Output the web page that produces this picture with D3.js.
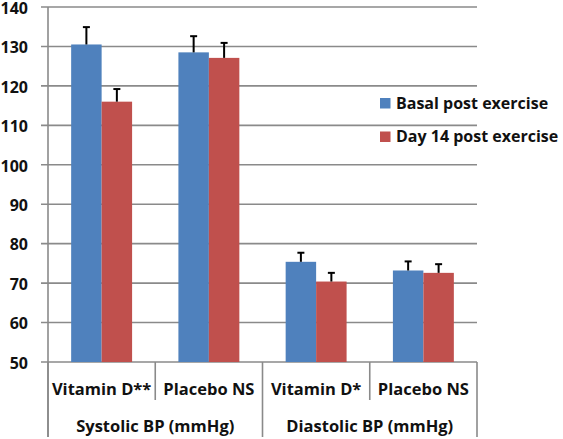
<!DOCTYPE html>
<html><head><meta charset="utf-8">
<script src="https://cdn.jsdelivr.net/npm/d3@7"></script>
<style>body{margin:0;background:#fff}svg{display:block}text{font-family:"Open Sans",sans-serif;font-weight:700;fill:#111}</style>
</head><body><svg id="c" width="563" height="439"></svg>
<script>
const categories = ["Vitamin D**", "Placebo NS", "Vitamin D*", "Placebo NS"];
const groups = ["Systolic BP (mmHg)", "Diastolic BP (mmHg)"];
const series = ["Basal post exercise", "Day 14 post exercise"];
const basal = [130.5, 128.5, 75.4, 73.2];
const basalErr = [4.4, 4.1, 2.3, 2.3];
const day14 = [116.0, 127.1, 70.4, 72.6];
const day14Err = [3.2, 3.8, 2.2, 2.2];
const yTicks = [50, 60, 70, 80, 90, 100, 110, 120, 130, 140];
const colors = ["#4F81BD", "#C0504D"];

const svg = d3.select("#c");
const L = 48, R = 477, T = 7, B = 362;
const y = d3.scaleLinear().domain([50, 140]).range([B, T]);
const idx = categories.map((d, i) => i);
const x0 = d3.scaleBand().domain(idx).range([L, R]);
const x1 = d3.scaleBand().domain([0, 1]).range([0, x0.bandwidth()]).paddingOuter(0.76).paddingInner(0);
const grid = "#8a8a8a";

// gridlines
svg.append("g").selectAll("line").data(yTicks).join("line")
  .attr("x1", L - 7).attr("x2", R).attr("y1", d => y(d)).attr("y2", d => y(d))
  .attr("stroke", grid).attr("stroke-width", 1.6);
// y axis line
svg.append("line").attr("x1", L).attr("x2", L).attr("y1", T).attr("y2", 437)
  .attr("stroke", grid).attr("stroke-width", 1.6);
// y labels
svg.append("g").selectAll("text").data(yTicks).join("text")
  .attr("x", 28).attr("y", d => y(d) + 1).attr("dy", "0.36em").attr("text-anchor", "end")
  .style("font-size", "16px").text(d => d);

// bars
const vals = [basal, day14], errs = [basalErr, day14Err];
[0, 1].forEach(s => {
  const g = svg.append("g");
  g.selectAll("rect").data(idx).join("rect")
    .attr("x", i => x0(i) + x1(s)).attr("width", x1.bandwidth())
    .attr("y", i => y(vals[s][i])).attr("height", i => y(50) - y(vals[s][i]))
    .attr("fill", colors[s]);
  const cx = i => x0(i) + x1(s) + x1.bandwidth() / 2;
  g.selectAll("line.e").data(idx).join("line")
    .attr("x1", cx).attr("x2", cx)
    .attr("y1", i => y(vals[s][i])).attr("y2", i => y(vals[s][i] + errs[s][i]))
    .attr("stroke", "#000").attr("stroke-width", 2);
  g.selectAll("line.c").data(idx).join("line")
    .attr("x1", i => cx(i) - 3.5).attr("x2", i => cx(i) + 3.5)
    .attr("y1", i => y(vals[s][i] + errs[s][i])).attr("y2", i => y(vals[s][i] + errs[s][i]))
    .attr("stroke", "#000").attr("stroke-width", 2);
});

// category axis separators
idx.concat([4]).forEach(i => {
  const xx = i < 4 ? x0(i) : R;
  const long = (i % 2 === 0);
  svg.append("line").attr("x1", xx).attr("x2", xx).attr("y1", B).attr("y2", long ? 437 : 400)
    .attr("stroke", grid).attr("stroke-width", 1.6);
});
svg.append("g").selectAll("text").data(idx).join("text")
  .attr("x", i => x0(i) + x0.bandwidth() / 2).attr("y", 394.5).attr("text-anchor", "middle")
  .style("font-size", "16.5px").text(i => categories[i]);
svg.append("g").selectAll("text").data(groups).join("text")
  .attr("x", (d, j) => (x0(2 * j) + (j === 0 ? x0(2) : R)) / 2).attr("y", 432).attr("text-anchor", "middle")
  .style("font-size", "16.5px").text(d => d);

// legend
const lg = svg.append("g");
series.forEach((s, k) => {
  lg.append("rect").attr("x", 380).attr("y", 98 + k * 33.5).attr("width", 10.5).attr("height", 10.5).attr("fill", colors[k]);
  lg.append("text").attr("x", 396).attr("y", 108.5 + k * 33).style("font-size", "16px").text(s);
});
</script></body></html>
